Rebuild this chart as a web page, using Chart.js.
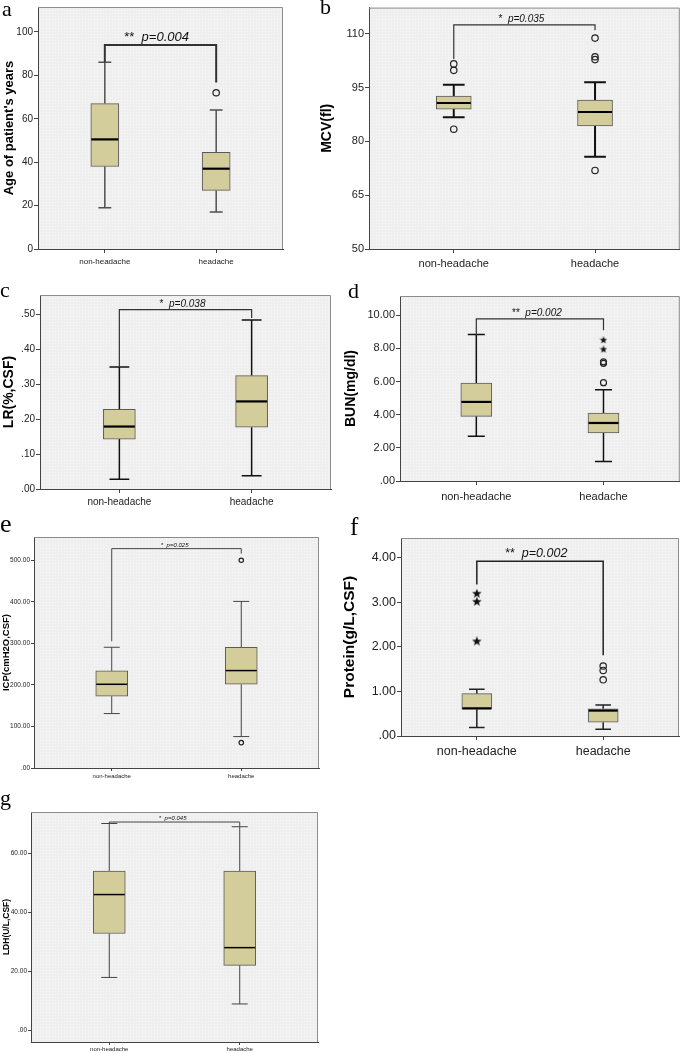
<!DOCTYPE html>
<html>
<head>
<meta charset="utf-8">
<script src="https://cdn.jsdelivr.net/npm/chart.js@4/dist/chart.umd.min.js"></script>
<style>
  body { margin: 0; background: #fff; width: 685px; height: 1053px; position: relative; overflow: hidden; }
  canvas { position: absolute; }
  .tag { position: absolute; font-family: "Liberation Serif", "Times New Roman", serif; line-height: 1; color: #000; z-index: 2; }
</style>
</head>
<body>
<script>
const groups = ["non-headache", "headache"];

// a - age
const ageLow = [19, 17];
const ageQ1 = [38, 27];
const ageMed = [50.5, 37];
const ageQ3 = [67, 44.5];
const ageHigh = [86, 64];
const ageCircles = [[], [72]];
const ageStars = [[], []];
const ageRange = [0, 111.5];
const ageTicks = [0, 20, 40, 60, 80, 100];
const ageTickLabels = ["0", "20", "40", "60", "80", "100"];
const ageBracket = [94, 86, 76.7];
const ageSig = ["**", "p=0.004"];

// b - MCV
const mcvLow = [86.7, 75.7];
const mcvQ1 = [89, 84.3];
const mcvMed = [90.7, 88.2];
const mcvQ3 = [92.6, 91.5];
const mcvHigh = [95.8, 96.5];
const mcvCircles = [[83.4, 99.8, 101.6], [71.9, 102.8, 103.6, 108.8]];
const mcvStars = [[], []];
const mcvRange = [50, 117.3];
const mcvTicks = [50, 65, 80, 95, 110];
const mcvTickLabels = ["50", "65", "80", "95", "110"];
const mcvBracket = [112.5, 103, 111];
const mcvSig = ["*", "p=0.035"];

// c - LR
const lrLow = [0.028, 0.038];
const lrQ1 = [0.143, 0.177];
const lrMed = [0.179, 0.251];
const lrQ3 = [0.228, 0.325];
const lrHigh = [0.35, 0.484];
const lrCircles = [[], []];
const lrStars = [[], []];
const lrRange = [0, 0.556];
const lrTicks = [0, 0.1, 0.2, 0.3, 0.4, 0.5];
const lrTickLabels = [".00", ".10", ".20", ".30", ".40", ".50"];
const lrBracket = [0.514, 0.35, 0.49];
const lrSig = ["*", "p=0.038"];

// d - BUN
const bunLow = [2.7, 1.18];
const bunQ1 = [3.9, 2.9];
const bunMed = [4.77, 3.5];
const bunQ3 = [5.9, 4.09];
const bunHigh = [8.84, 5.5];
const bunCircles = [[], [5.93, 7.1, 7.19]];
const bunStars = [[], [7.94, 8.5]];
const bunRange = [0, 11.16];
const bunTicks = [0, 2, 4, 6, 8, 10];
const bunTickLabels = [".00", "2.00", "4.00", "6.00", "8.00", "10.00"];
const bunBracket = [9.78, 8.8, 9.1];
const bunSig = ["**", "p=0.002"];

// e - ICP
const icpLow = [131, 75.6];
const icpQ1 = [173, 201.5];
const icpMed = [201.5, 234.5];
const icpQ3 = [233.6, 290.6];
const icpHigh = [290.6, 401];
const icpCircles = [[], [61, 500]];
const icpStars = [[], []];
const icpRange = [0, 556];
const icpTicks = [0, 100, 200, 300, 400, 500];
const icpTickLabels = [".00", "100.00", "200.00", "300.00", "400.00", "500.00"];
const icpBracket = [528, 305, 516];
const icpSig = ["*", "p=0.025"];

// f - protein
const proLow = [0.19, 0.15];
const proQ1 = [0.6, 0.31];
const proMed = [0.62, 0.57];
const proQ3 = [0.95, 0.61];
const proHigh = [1.05, 0.695];
const proCircles = [[], [1.26, 1.47, 1.57]];
const proStars = [[2.12, 3.01, 3.19], []];
const proRange = [0, 4.44];
const proTicks = [0, 1, 2, 3, 4];
const proTickLabels = [".00", "1.00", "2.00", "3.00", "4.00"];
const proBracket = [3.92, 3.4, 1.81];
const proSig = ["**", "p=0.002"];

// g - LDH
const ldhLow = [18, 9];
const ldhQ1 = [32.9, 22.1];
const ldhMed = [46.1, 28.1];
const ldhQ3 = [54.1, 54.1];
const ldhHigh = [70.2, 69.1];
const ldhCircles = [[], []];
const ldhStars = [[], []];
const ldhRange = [-3.9, 74.1];
const ldhTicks = [0, 20, 40, 60];
const ldhTickLabels = [".00", "20.00", "40.00", "60.00"];
const ldhBracket = [70.7, 70.2, 69.1];
const ldhSig = ["*", "p=0.045"];

const SANS = '"Liberation Sans", Arial, sans-serif';

const panels = [
  { tag: "a", tagPos: [2, -2, 22], title: "Age of patient's years",
    low: ageLow, q1: ageQ1, med: ageMed, q3: ageQ3, high: ageHigh, circles: ageCircles, stars: ageStars,
    range: ageRange, ticks: ageTicks, tickLabels: ageTickLabels, bracket: ageBracket, sig: ageSig,
    box: [0, 0, 300, 270], area: [38, 6, 283, 249],
    f: { tick: 10, x: 8, title: 13, sig: 13, titlePad: 2, xPad: 4, tickLen: 4 },
    boxW: 28, cap: 0.46, line: 1.5, stroke: "#505050", bLine: 2, bStroke: "#333", r: 3.2, starSize: 9 },
  { tag: "b", tagPos: [320, -4, 22], title: "MCV(fl)",
    low: mcvLow, q1: mcvQ1, med: mcvMed, q3: mcvQ3, high: mcvHigh, circles: mcvCircles, stars: mcvStars,
    range: mcvRange, ticks: mcvTicks, tickLabels: mcvTickLabels, bracket: mcvBracket, sig: mcvSig,
    box: [318, 0, 367, 270], area: [369, 6, 681, 249],
    f: { tick: 11, x: 11, title: 14, sig: 10, titlePad: 1, xPad: 4, tickLen: 4 },
    boxW: 35, cap: 0.62, line: 2, stroke: "#111", bLine: 1.2, bStroke: "#333", r: 3.2, starSize: 9 },
  { tag: "c", tagPos: [0, 279, 22], title: "LR(%,CSF)",
    low: lrLow, q1: lrQ1, med: lrMed, q3: lrQ3, high: lrHigh, circles: lrCircles, stars: lrStars,
    range: lrRange, ticks: lrTicks, tickLabels: lrTickLabels, bracket: lrBracket, sig: lrSig,
    box: [0, 285, 340, 225], area: [40, 295, 331, 489],
    f: { tick: 10, x: 10, title: 14, sig: 10, titlePad: 1, xPad: 3, tickLen: 4 },
    boxW: 32, cap: 0.62, line: 1.5, stroke: "#111", bLine: 1.2, bStroke: "#333", r: 3, starSize: 9 },
  { tag: "d", tagPos: [348, 280, 22], title: "BUN(mg/dl)",
    low: bunLow, q1: bunQ1, med: bunMed, q3: bunQ3, high: bunHigh, circles: bunCircles, stars: bunStars,
    range: bunRange, ticks: bunTicks, tickLabels: bunTickLabels, bracket: bunBracket, sig: bunSig,
    box: [340, 285, 345, 225], area: [400, 296, 683, 481],
    f: { tick: 11, x: 11, title: 14, sig: 10, titlePad: 2.5, xPad: 5, tickLen: 4 },
    boxW: 31, cap: 0.55, line: 1.5, stroke: "#111", bLine: 1.2, bStroke: "#333", r: 3, starSize: 8 },
  { tag: "e", tagPos: [0, 511, 26], title: "ICP(cmH2O,CSF)",
    low: icpLow, q1: icpQ1, med: icpMed, q3: icpQ3, high: icpHigh, circles: icpCircles, stars: icpStars,
    range: icpRange, ticks: icpTicks, tickLabels: icpTickLabels, bracket: icpBracket, sig: icpSig,
    box: [0, 520, 340, 260], area: [34, 537, 319, 768],
    f: { tick: 6.5, x: 6, title: 9.5, sig: 6, titlePad: 0.8, xPad: 1.5, tickLen: 3 },
    boxW: 32, cap: 0.5, line: 1, stroke: "#444", bLine: 1, bStroke: "#444", r: 2.2, starSize: 7 },
  { tag: "f", tagPos: [350, 514, 25], title: "Protein(g/L,CSF)",
    low: proLow, q1: proQ1, med: proMed, q3: proQ3, high: proHigh, circles: proCircles, stars: proStars,
    range: proRange, ticks: proTicks, tickLabels: proTickLabels, bracket: proBracket, sig: proSig,
    box: [340, 520, 345, 260], area: [401, 538, 683, 736],
    f: { tick: 12.5, x: 12.5, title: 15.5, sig: 12.5, titlePad: 0.7, xPad: 4, tickLen: 4 },
    boxW: 30, cap: 0.52, line: 1.5, stroke: "#222", bLine: 1.5, bStroke: "#222", r: 3.2, starSize: 10 },
  { tag: "g", tagPos: [0, 787, 22], title: "LDH(U/L,CSF)",
    low: ldhLow, q1: ldhQ1, med: ldhMed, q3: ldhQ3, high: ldhHigh, circles: ldhCircles, stars: ldhStars,
    range: ldhRange, ticks: ldhTicks, tickLabels: ldhTickLabels, bracket: ldhBracket, sig: ldhSig,
    box: [0, 795, 340, 258], area: [31, 812, 318, 1042],
    f: { tick: 6.5, x: 6, title: 8.5, sig: 6, titlePad: 1.4, xPad: 1, tickLen: 3 },
    boxW: 32, cap: 0.5, line: 1, stroke: "#444", bLine: 1, bStroke: "#444", r: 2.2, starSize: 7 }
];

function starImage(size) {
  const c = document.createElement("canvas");
  c.width = size; c.height = size;
  const g = c.getContext("2d");
  const m = size / 2;
  g.fillStyle = "#111";
  g.beginPath();
  for (let k = 0; k < 10; k++) {
    const r = k % 2 ? m * 0.42 : m;
    const a = -Math.PI / 2 + k * Math.PI / 5;
    g.lineTo(m + r * Math.cos(a), m + r * Math.sin(a));
  }
  g.closePath();
  g.fill();
  return c;
}

// SPSS-like light dotted plot background
function dots(ctx) {
  const c = document.createElement("canvas");
  c.width = 3; c.height = 3;
  const g = c.getContext("2d");
  g.fillStyle = "#efefef";
  g.fillRect(0, 0, 3, 3);
  g.fillStyle = "#f8f8f8";
  g.fillRect(1, 1, 1, 1);
  return ctx.createPattern(c, "repeat");
}

function extras(p) {
  return {
    id: "boxExtras",
    beforeDraw(chart) {
      const { ctx, chartArea: a } = chart;
      ctx.save();
      ctx.fillStyle = dots(ctx);
      ctx.fillRect(a.left, a.top, a.width, a.height);
      ctx.restore();
    },
    beforeDatasetsDraw(chart) {
      const { ctx, scales: { x, y } } = chart;
      ctx.save();
      ctx.strokeStyle = p.stroke;
      ctx.lineWidth = p.line;
      const cw = p.boxW * p.cap / 2;
      groups.forEach((g, i) => {
        const cx = x.getPixelForValue(i + 1);
        ctx.beginPath();
        ctx.moveTo(cx, y.getPixelForValue(p.low[i]));
        ctx.lineTo(cx, y.getPixelForValue(p.q1[i]));
        ctx.moveTo(cx, y.getPixelForValue(p.q3[i]));
        ctx.lineTo(cx, y.getPixelForValue(p.high[i]));
        [p.low[i], p.high[i]].forEach(v => {
          const py = y.getPixelForValue(v);
          ctx.moveTo(cx - cw, py);
          ctx.lineTo(cx + cw, py);
        });
        ctx.stroke();
      });
      ctx.restore();
    },
    afterDatasetsDraw(chart) {
      const { ctx, scales: { x, y } } = chart;
      ctx.save();
      ctx.strokeStyle = "#000";
      ctx.lineWidth = p.f.tick > 7 ? 2.2 : 1.5;
      groups.forEach((g, i) => {
        const cx = x.getPixelForValue(i + 1);
        const py = y.getPixelForValue(p.med[i]);
        ctx.beginPath();
        ctx.moveTo(cx - p.boxW / 2 + 0.5, py);
        ctx.lineTo(cx + p.boxW / 2 - 0.5, py);
        ctx.stroke();
      });
      ctx.restore();
    },
    afterDraw(chart) {
      const { ctx, chartArea: a, scales: { x, y } } = chart;
      ctx.save();
      // frame on the top and right side
      ctx.strokeStyle = "#8c8c8c";
      ctx.lineWidth = 1;
      ctx.beginPath();
      ctx.moveTo(a.left, a.top + 0.5);
      ctx.lineTo(a.right - 0.5, a.top + 0.5);
      ctx.lineTo(a.right - 0.5, a.bottom);
      ctx.stroke();
      // significance bracket
      const x1 = x.getPixelForValue(1);
      const x2 = x.getPixelForValue(2);
      const by = y.getPixelForValue(p.bracket[0]);
      ctx.strokeStyle = p.bStroke;
      ctx.lineWidth = p.bLine;
      ctx.beginPath();
      ctx.moveTo(x1, y.getPixelForValue(p.bracket[1]));
      ctx.lineTo(x1, by);
      ctx.lineTo(x2, by);
      ctx.lineTo(x2, y.getPixelForValue(p.bracket[2]));
      ctx.stroke();
      // label: stars + italic p
      const fs = p.f.sig;
      ctx.fillStyle = "#111";
      ctx.textBaseline = "alphabetic";
      ctx.font = fs + "px " + SANS;
      const lead = p.sig[0] + "  ";
      const w1 = ctx.measureText(lead).width;
      ctx.font = "italic " + fs + "px " + SANS;
      const w2 = ctx.measureText(p.sig[1]).width;
      const sx = (x1 + x2) / 2 - (w1 + w2) / 2 - fs * 0.3;
      const sy = by - Math.max(2, fs * 0.3);
      ctx.font = fs + "px " + SANS;
      ctx.fillText(lead, sx, sy);
      ctx.font = "italic " + fs + "px " + SANS;
      ctx.fillText(p.sig[1], sx + w1, sy);
      ctx.restore();
    }
  };
}

panels.forEach(p => {
  const [bx, by, bw, bh] = p.box;
  const [al, at, ar, ab] = p.area;
  const cv = document.createElement("canvas");
  cv.width = bw; cv.height = bh;
  cv.style.left = bx + "px"; cv.style.top = by + "px";
  cv.style.width = bw + "px"; cv.style.height = bh + "px";
  document.body.appendChild(cv);

  const tag = document.createElement("div");
  tag.className = "tag";
  tag.textContent = p.tag;
  tag.style.left = p.tagPos[0] + "px";
  tag.style.top = p.tagPos[1] + "px";
  tag.style.fontSize = p.tagPos[2] + "px";
  document.body.appendChild(tag);

  const pts = list => list.flatMap((vals, i) => vals.map(v => ({ x: i + 1, y: v })));

  new Chart(cv, {
    type: "bar",
    data: {
      datasets: [
        {
          type: "bar",
          data: groups.map((g, i) => ({ x: i + 1, y: [p.q1[i], p.q3[i]] })),
          backgroundColor: "#d3cd9b",
          borderColor: "#5a5a5a",
          borderWidth: 1,
          borderSkipped: false,
          barThickness: p.boxW
        },
        {
          type: "scatter",
          data: pts(p.circles),
          pointStyle: "circle",
          pointRadius: p.r,
          pointBorderWidth: 1.2,
          pointBorderColor: "#222",
          pointBackgroundColor: "rgba(0,0,0,0)"
        },
        {
          type: "scatter",
          data: pts(p.stars),
          pointStyle: starImage(p.starSize),
          pointRadius: p.starSize / 2
        }
      ]
    },
    options: {
      responsive: false,
      animation: false,
      events: [],
      layout: { padding: { left: 0, bottom: 0, top: at - by, right: bx + bw - ar } },
      plugins: { legend: { display: false }, tooltip: { enabled: false } },
      scales: {
        x: {
          type: "linear",
          min: 0.4,
          max: 2.6,
          offset: false,
          afterBuildTicks: s => { s.ticks = groups.map((g, i) => ({ value: i + 1 })); },
          afterFit: s => { s.height = by + bh - ab; },
          ticks: {
            autoSkip: false,
            maxRotation: 0,
            padding: p.f.xPad,
            color: "#222",
            font: { family: SANS, size: p.f.x },
            callback: (v, i) => groups[i]
          },
          grid: { offset: false, drawOnChartArea: false, tickLength: p.f.tickLen, color: "#444" },
          border: { color: "#444", width: 1 }
        },
        y: {
          type: "linear",
          bounds: "data",
          min: p.range[0],
          max: p.range[1],
          afterBuildTicks: s => { s.ticks = p.ticks.map(v => ({ value: v })); },
          afterFit: s => { s.width = al - bx; },
          ticks: {
            autoSkip: false,
            padding: 1,
            color: "#222",
            font: { family: SANS, size: p.f.tick },
            callback: (v, i) => p.tickLabels[i]
          },
          grid: { drawOnChartArea: false, tickLength: p.f.tickLen, color: "#444" },
          border: { color: "#444", width: 1 },
          title: {
            display: true,
            text: p.title,
            color: "#000",
            padding: { top: p.f.titlePad, bottom: 0 },
            font: { family: SANS, size: p.f.title, weight: "bold" }
          }
        }
      }
    },
    plugins: [extras(p)]
  });
});
</script>
</body>
</html>
